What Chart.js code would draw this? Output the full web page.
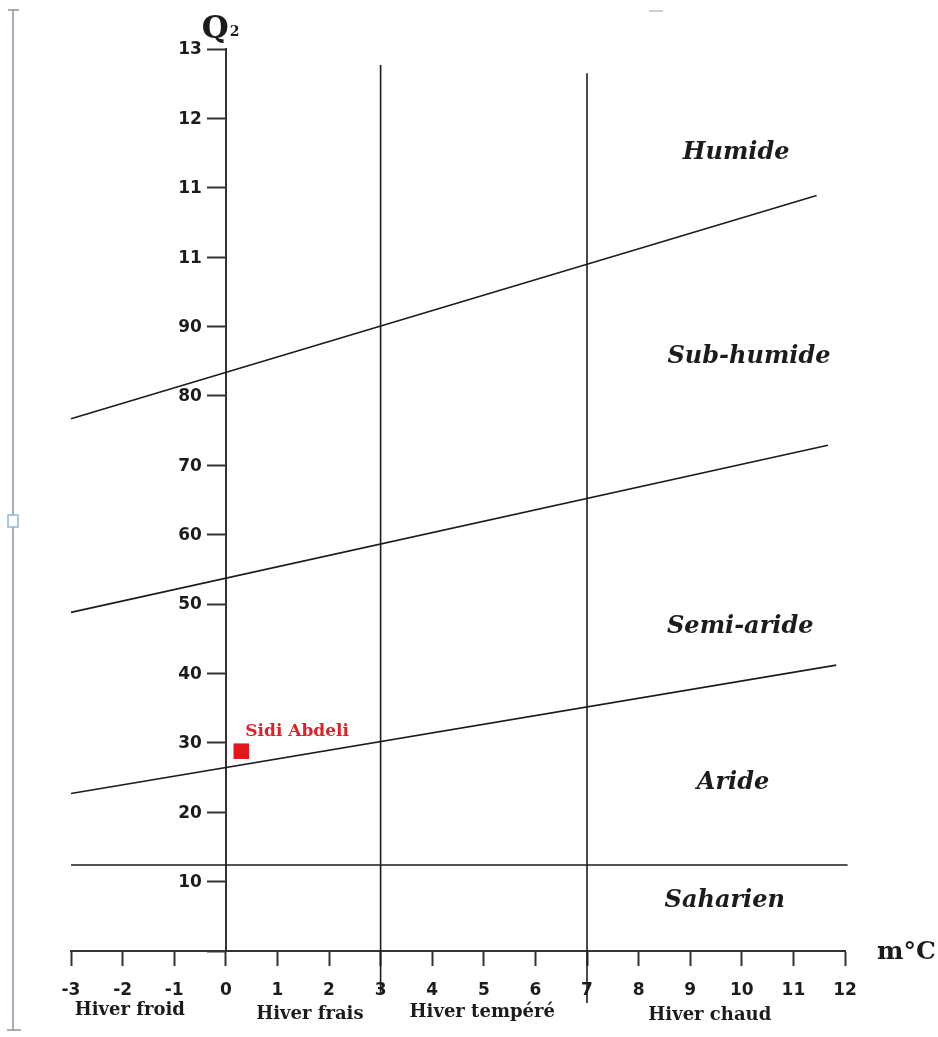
<!DOCTYPE html>
<html>
<head>
<meta charset="utf-8">
<title>Climagramme d'Emberger – Sidi Abdeli</title>
<script src="https://cdn.jsdelivr.net/npm/chart.js@4/dist/chart.umd.min.js"></script>
<style>
  html, body { margin: 0; padding: 0; background: #ffffff; }
  #wrap { width: 938px; height: 1037px; position: relative; }
</style>
</head>
<body>
<div id="wrap"><canvas id="climagramme" width="938" height="1037"></canvas></div>
<script>
// Axis ranges and tick labels
const mRange = [-3, 12];
const qRange = [0, 130];
const qTickLabels = ['', '10', '20', '30', '40', '50', '60', '70', '80', '90', '11', '11', '12', '13'];

// Bioclimatic limits (m in °C, Q2)
const limitHumideM = [-3, 11.45];
const limitHumideQ = [76.7, 108.9];
const limitSubHumideM = [-3, 11.67];
const limitSubHumideQ = [48.8, 72.9];
const limitSemiArideM = [-3, 11.83];
const limitSemiArideQ = [22.7, 41.2];
const limitSaharienM = [-3, 12.05];
const limitSaharienQ = [12.4, 12.4];

// Winter variant limits (vertical lines)
const winterLimitM = [3, 7];
const winterLimitQLow = [-6.3, -7.5];
const winterLimitQHigh = [127.7, 126.5];

// Station
const stationName = 'Sidi Abdeli';
const stationM = 0.3;
const stationQ = 28.8;

// Zone names and their anchor points (m, Q2)
const zoneNames = ['Humide', 'Sub-humide', 'Semi-aride', 'Aride', 'Saharien'];
const zoneM = [9.89, 10.14, 9.97, 9.83, 9.67];
const zoneQ = [115, 85.6, 46.7, 24.2, 7.3];

// Winter variants under the m axis
const winterNames = ['Hiver froid', 'Hiver frais', 'Hiver tempéré', 'Hiver chaud'];
const winterM = [-1.86, 1.63, 4.97, 9.38];

const INK = '#1c1c1c';
const Y_TICK_LEN = 18;
const Y_TICK_PAD = 6;

function pairs(xs, ys) {
  return xs.map((x, i) => ({ x: x, y: ys[i] }));
}

function limitDataset(xs, ys) {
  return {
    type: 'line',
    data: pairs(xs, ys),
    borderColor: INK,
    borderWidth: 1.6,
    pointRadius: 0,
    tension: 0,
    fill: false,
    clip: false
  };
}

const datasets = [
  limitDataset(limitHumideM, limitHumideQ),
  limitDataset(limitSubHumideM, limitSubHumideQ),
  limitDataset(limitSemiArideM, limitSemiArideQ),
  limitDataset(limitSaharienM, limitSaharienQ)
];
winterLimitM.forEach((m, i) => {
  datasets.push(limitDataset([m, m], [winterLimitQLow[i], winterLimitQHigh[i]]));
});
datasets.push({
  type: 'scatter',
  data: [{ x: stationM, y: stationQ }],
  pointStyle: 'rect',
  pointRadius: 11,
  backgroundColor: '#e8141c',
  borderColor: '#e8141c',
  borderWidth: 0
});

// Page margin marker along the left edge
const marginMarker = {
  id: 'marginMarker',
  beforeDraw(chart) {
    const ctx = chart.ctx;
    ctx.save();
    ctx.fillStyle = '#ffffff';
    ctx.fillRect(0, 0, chart.width, chart.height);
    ctx.strokeStyle = '#8796a5';
    ctx.lineWidth = 1.5;
    ctx.beginPath();
    ctx.moveTo(13, 10); ctx.lineTo(13, 1030);
    ctx.moveTo(8, 10); ctx.lineTo(19, 10);
    ctx.moveTo(7, 1030); ctx.lineTo(21, 1030);
    ctx.stroke();
    ctx.fillStyle = '#ffffff';
    ctx.strokeStyle = '#8fb7d0';
    ctx.fillRect(8, 515, 10, 12);
    ctx.strokeRect(8, 515, 10, 12);
    ctx.strokeStyle = '#a9c4d8';
    ctx.beginPath();
    ctx.moveTo(649, 11); ctx.lineTo(663, 11);
    ctx.stroke();
    ctx.restore();
  }
};

// Q2 tick labels beside the ordinate (which sits at m = 0)
const ordinateLabels = {
  id: 'ordinateLabels',
  afterDraw(chart) {
    const ctx = chart.ctx;
    const xs = chart.scales.x;
    const ys = chart.scales.y;
    const xRight = xs.getPixelForValue(0) - Y_TICK_LEN - Y_TICK_PAD;
    ctx.save();
    ctx.fillStyle = INK;
    ctx.font = 'bold 17px "DejaVu Sans"';
    ctx.textAlign = 'right';
    ctx.textBaseline = 'middle';
    ys.ticks.forEach((t) => {
      const label = qTickLabels[Math.round(t.value / 10)];
      if (label) ctx.fillText(label, xRight, ys.getPixelForValue(t.value) + 1);
    });
    ctx.restore();
  }
};

// Zone names, axis titles, winter variants and station label
const annotations = {
  id: 'annotations',
  afterDatasetsDraw(chart) {
    const ctx = chart.ctx;
    const xs = chart.scales.x;
    const ys = chart.scales.y;
    const x0 = xs.getPixelForValue(0);
    const yTop = ys.getPixelForValue(qRange[1]);
    const yAxis = ys.getPixelForValue(0);
    ctx.save();
    ctx.fillStyle = INK;
    ctx.textBaseline = 'middle';

    ctx.font = 'italic bold 24px "DejaVu Serif"';
    ctx.textAlign = 'center';
    zoneNames.forEach((name, i) => {
      ctx.fillText(name, xs.getPixelForValue(zoneM[i]), ys.getPixelForValue(zoneQ[i]));
    });

    ctx.font = 'bold 18px "DejaVu Serif"';
    const winterDrop = [59, 63, 61, 64];
    winterNames.forEach((name, i) => {
      ctx.fillText(name, xs.getPixelForValue(winterM[i]), yAxis + winterDrop[i]);
    });

    // Q2 title above the ordinate
    ctx.textAlign = 'left';
    ctx.textBaseline = 'alphabetic';
    ctx.font = 'bold 31px "DejaVu Serif"';
    ctx.fillText('Q', x0 - 24, yTop - 11);
    ctx.font = 'bold 14px "DejaVu Serif"';
    ctx.fillText('2', x0 + 4, yTop - 13);

    // m°C title at the end of the abscissa
    ctx.font = 'bold 25px "DejaVu Serif"';
    ctx.fillText('m°C', xs.getPixelForValue(mRange[1]) + 32, yAxis + 8);

    // Station name
    ctx.fillStyle = '#e31e24';
    ctx.textBaseline = 'middle';
    ctx.font = 'bold 17px "DejaVu Serif"';
    ctx.fillText(stationName, xs.getPixelForValue(stationM) + 4, ys.getPixelForValue(stationQ) - 20);
    ctx.restore();
  }
};

new Chart(document.getElementById('climagramme'), {
  type: 'scatter',
  data: { datasets: datasets },
  options: {
    responsive: false,
    devicePixelRatio: 1,
    animation: false,
    events: [],
    layout: { padding: { left: 71, right: 93, top: 49, bottom: 86 } },
    plugins: {
      legend: { display: false },
      tooltip: { enabled: false }
    },
    scales: {
      x: {
        type: 'linear',
        position: { y: 0 },
        min: mRange[0],
        max: mRange[1],
        grid: { drawOnChartArea: false, drawTicks: true, tickLength: 14, tickWidth: 2, tickColor: '#333' },
        border: { display: true, color: '#333', width: 2 },
        ticks: {
          stepSize: 1,
          autoSkip: false,
          maxRotation: 0,
          padding: 15,
          color: INK,
          font: { family: '"DejaVu Sans"', weight: 'bold', size: 17 }
        }
      },
      y: {
        type: 'linear',
        position: { x: 0 },
        min: qRange[0],
        max: qRange[1],
        grid: { drawOnChartArea: false, drawTicks: true, tickLength: Y_TICK_LEN, tickWidth: 2, tickColor: '#333' },
        border: { display: true, color: '#333', width: 2 },
        ticks: {
          stepSize: 10,
          autoSkip: false,
          display: false
        }
      }
    }
  },
  plugins: [marginMarker, ordinateLabels, annotations]
});
</script>
</body>
</html>
